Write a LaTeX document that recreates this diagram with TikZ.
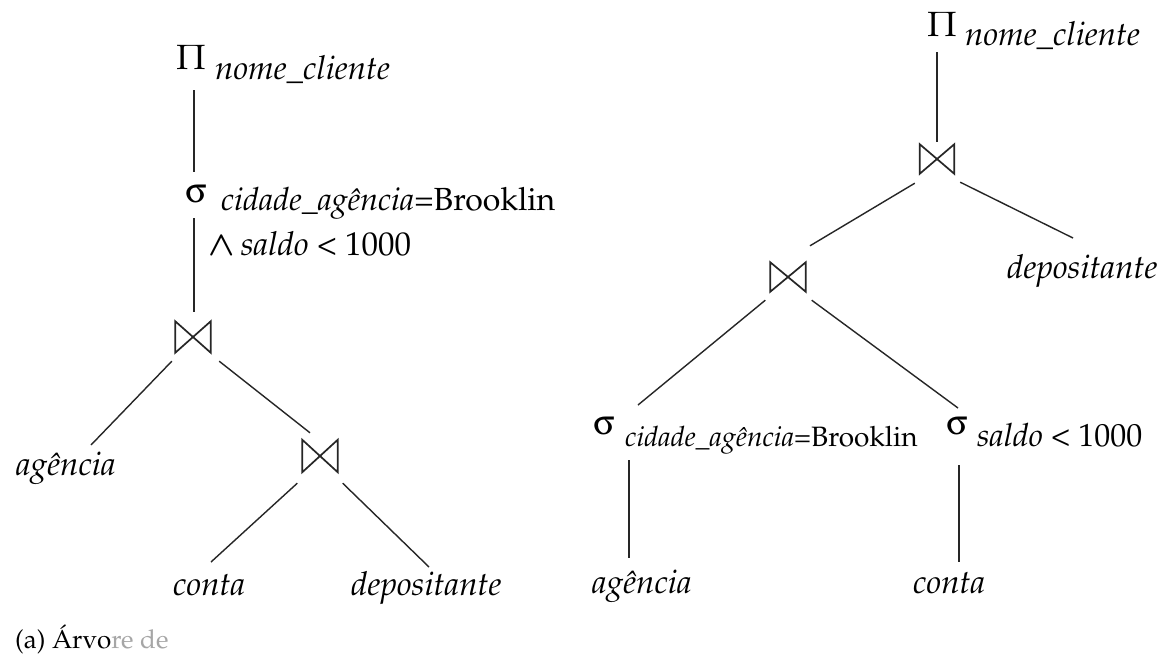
\documentclass[tikz,border=0pt]{standalone}
\usepackage[T1]{fontenc}
\usepackage{amsmath}
\usepackage{mathpazo}
\usepackage[Symbol]{upgreek}
\tikzset{
  txt/.style={inner sep=0pt, font=\fontsize{33}{40}\selectfont},
  subl/.style={inner sep=0pt, font=\fontsize{32}{40}\selectfont},
  subr/.style={inner sep=0pt, font=\fontsize{28}{34}\selectfont},
  sym/.style={inner sep=0pt, font=\fontsize{35}{40}\selectfont},
  captext/.style={inner sep=0pt, font=\fontsize{26}{30}\selectfont},
  tie stroke/.style={line width=1.7pt, line join=miter, black!85},
  bowtie/.style={inner sep=0pt, minimum width=35pt, minimum height=31pt,
    append after command={\pgfextra{\draw[tie stroke]
      (\tikzlastnode.south west) -- (\tikzlastnode.north west) --
      (\tikzlastnode.south east) -- (\tikzlastnode.north east) -- cycle;}}},
  link/.style={line width=1.4pt, black!85},
}
\begin{document}
\begin{tikzpicture}[x=1pt, y=-1pt]
  \useasboundingbox[fill=white] (0,0) rectangle (1171,665);

  % ---- tree (a) ----
  \node[sym, anchor=base] (p1) at (191,69) {$\Pi$};
  \node[txt, anchor=base west] (p1s) at (215,79) {\textit{nome\_cliente}};
  \node[sym, anchor=base] (s1) at (196,202) {$\upsigma$};
  \node[subl, anchor=base west] (s1s) at (221,210) {\textit{cidade\_ag\^encia}=Brooklin};
  \node[txt, anchor=base west] (s1c) at (208,255) {$\boldsymbol{\wedge}$\,\textit{saldo} < 1000};
  \node[bowtie] (j1) at (193,337) {};
  \node[txt, anchor=base west] (ag1) at (16,475) {\textit{ag\^encia}};
  \node[bowtie, minimum height=32pt] (j2) at (320,456) {};
  \node[txt, anchor=base west] (co1) at (173,595) {\textit{conta}};
  \node[txt, anchor=base west] (de1) at (351,595) {\textit{depositante}};

  \draw[link] ([shift={(3,21)}]p1.base) -- ([shift={(-2,-30)}]s1.base);
  \draw[link] ([shift={(-2,16)}]s1.base) -- ([shift={(1,-9.5)}]j1.north);
  \draw[link] ([shift={(-3.5,8.5)}]j1.south west) -- ([shift={(75,-30)}]ag1.base west);
  \draw[link] ([shift={(8.5,8.5)}]j1.south east) -- ([shift={(-10,-7)}]j2.north);
  \draw[link] ([shift={(-5,11)}]j2.south west) -- ([shift={(38,-33)}]co1.base west);
  \draw[link] ([shift={(5,11)}]j2.south east) -- ([shift={(78,-28)}]de1.base west);

  % ---- tree (b) ----
  \node[sym, anchor=base] (p2) at (942,36) {$\Pi$};
  \node[txt, anchor=base west] (p2s) at (965,45) {\textit{nome\_cliente}};
  \node[bowtie, minimum width=34pt, minimum height=29pt] (j3) at (937,159) {};
  \node[bowtie, minimum height=29pt] (j4) at (788,277) {};
  \node[txt, anchor=base west] (dp2) at (1007,278) {\textit{depositante}};
  \node[sym, anchor=base] (s3) at (604,434) {$\upsigma$};
  \node[subr, anchor=base west] (s3s) at (625,446) {\textit{cidade\_ag\^encia}=Brooklin};
  \node[sym, anchor=base] (s4) at (957,434) {$\upsigma$};
  \node[subl, anchor=base west] (s4s) at (977,446) {\textit{saldo} < 1000};
  \node[txt, anchor=base west] (ag2) at (592,593) {\textit{ag\^encia}};
  \node[txt, anchor=base west] (co2) at (913,593) {\textit{conta}};

  \draw[link] ([shift={(-5,16)}]p2.base) -- ([shift={(0,-2.5)}]j3.north);
  \draw[link] ([shift={(-5,9.5)}]j3.south west) -- ([shift={(22,-16.5)}]j4.north);
  \draw[link] ([shift={(6,8.5)}]j3.south east) -- ([shift={(66,-40)}]dp2.base west);
  \draw[link] ([shift={(-5,8.5)}]j4.south west) -- ([shift={(34,-29)}]s3.base);
  \draw[link] ([shift={(6,8.5)}]j4.south east) -- ([shift={(1,-26)}]s4.base);
  \draw[link] ([shift={(25,26)}]s3.base) -- ([shift={(37,-35)}]ag2.base west);
  \draw[link] ([shift={(2,31)}]s4.base) -- ([shift={(46,-31)}]co2.base west);

  % ---- caption ----
  \node[captext, anchor=base west] (caption) at (15,648) {(a) \'Arvo\textcolor{black!35}{re de}};
\end{tikzpicture}
\end{document}
